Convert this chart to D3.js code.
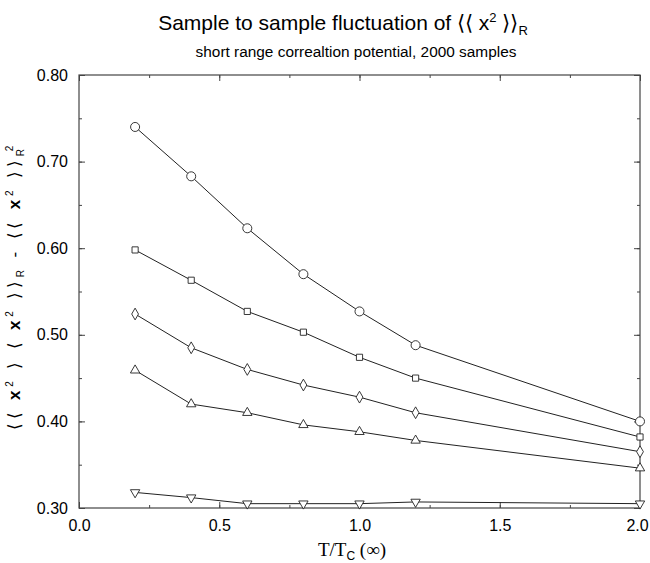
<!DOCTYPE html>
<html><head><meta charset="utf-8">
<script src="https://cdn.jsdelivr.net/npm/d3@7"></script>
<style>body{margin:0;background:#fff}svg{display:block}</style>
</head><body>
<svg id="c" width="650" height="563"></svg>
<script>
const temps = [0.2, 0.4, 0.6, 0.8, 1.0, 1.2, 2.0];
const circleSeries   = [0.740, 0.683, 0.623, 0.570, 0.527, 0.488, 0.400];
const squareSeries   = [0.598, 0.563, 0.527, 0.503, 0.474, 0.450, 0.382];
const diamondSeries  = [0.524, 0.485, 0.460, 0.442, 0.428, 0.410, 0.365];
const triangleSeries = [0.459, 0.420, 0.410, 0.396, 0.388, 0.378, 0.346];
const downTriSeries  = [0.318, 0.312, 0.305, 0.305, 0.305, 0.307, 0.305];
const xTicks = [0.0, 0.5, 1.0, 1.5, 2.0];
const yTicks = [0.30, 0.40, 0.50, 0.60, 0.70, 0.80];

const series = [
  {sym: d3.symbolCircle, size: 64, vals: circleSeries},
  {sym: d3.symbolSquare, size: 38, vals: squareSeries},
  {sym: d3.symbolDiamond, size: 40, vals: diamondSeries},
  {sym: d3.symbolTriangle, size: 38, vals: triangleSeries},
  {sym: d3.symbolTriangle, size: 38, vals: downTriSeries, rot: 180}
];

const svg = d3.select('#c');
const L = 79, R = 640, T = 75, B = 508;
const x = d3.scaleLinear().domain([0, 2]).range([L, R]);
const y = d3.scaleLinear().domain([0.3, 0.8]).range([B, T]);
const axCol = '#444';
const font = 'Liberation Sans, Arial, Helvetica, sans-serif';

// frame
svg.append('rect').attr('x', L).attr('y', T).attr('width', R - L).attr('height', B - T)
  .attr('fill', 'none').attr('stroke', axCol).attr('stroke-width', 1.2);

const xMinor = d3.range(0, 2.001, 0.25);
const yMinor = d3.range(0.30, 0.801, 0.05);
function tickAxis(axisFn, scale, vals, len, pos) {
  const g = svg.append('g').attr('transform', pos)
    .call(axisFn(scale).tickValues(vals).tickSize(len).tickFormat(''));
  g.select('.domain').remove();
  g.selectAll('line').attr('stroke', axCol);
}
// inward ticks on all sides
tickAxis(d3.axisTop, x, xTicks, 6, `translate(0,${B})`);
tickAxis(d3.axisTop, x, xMinor, 3, `translate(0,${B})`);
tickAxis(d3.axisBottom, x, xTicks, 6, `translate(0,${T})`);
tickAxis(d3.axisBottom, x, xMinor, 3, `translate(0,${T})`);
tickAxis(d3.axisRight, y, yTicks, 6, `translate(${L},0)`);
tickAxis(d3.axisRight, y, yMinor, 3, `translate(${L},0)`);
tickAxis(d3.axisLeft, y, yTicks, 6, `translate(${R},0)`);
tickAxis(d3.axisLeft, y, yMinor, 3, `translate(${R},0)`);

// tick labels
const xl = svg.append('g').attr('transform', `translate(0,${B})`)
  .call(d3.axisBottom(x).tickValues(xTicks).tickSize(0).tickPadding(12).tickFormat(d3.format('.1f')));
xl.select('.domain').remove();
xl.selectAll('text').attr('font-family', font).attr('font-size', 16).attr('fill', '#000')
  .attr('dx', d => d === 2 ? -3 : 0);

const yl = svg.append('g').attr('transform', `translate(${L},0)`)
  .call(d3.axisLeft(y).tickValues(yTicks).tickSize(0).tickPadding(11).tickFormat(d3.format('.2f')));
yl.select('.domain').remove();
yl.selectAll('text').attr('font-family', font).attr('font-size', 16).attr('fill', '#000');

// lines and markers
const line = d3.line().x((d, i) => x(temps[i])).y(d => y(d));
series.forEach(s => {
  svg.append('path').datum(s.vals).attr('d', line)
    .attr('fill', 'none').attr('stroke', '#222').attr('stroke-width', 1);
  svg.append('g').selectAll('path').data(s.vals).join('path')
    .attr('d', d3.symbol(s.sym, s.size))
    .attr('transform', (d, i) => `translate(${x(temps[i])},${y(d)})` + (s.rot ? ` rotate(${s.rot})` : ''))
    .attr('fill', '#fff').attr('stroke', '#222').attr('stroke-width', 0.9);
});

// title
const title = svg.append('text').attr('x', 343).attr('y', 30).attr('text-anchor', 'middle')
  .attr('font-family', font).attr('font-size', 21).attr('fill', '#000');
title.append('tspan').text('Sample to sample fluctuation of \u27E8\u27E8 x');
title.append('tspan').attr('font-size', 13).attr('dy', -8).text('2');
title.append('tspan').attr('dy', 8).text(' \u27E9\u27E9');
title.append('tspan').attr('font-size', 13).attr('dy', 5).text('R');

svg.append('text').attr('x', 356).attr('y', 57).attr('text-anchor', 'middle')
  .attr('font-family', font).attr('font-size', 15.4).attr('fill', '#000')
  .text('short range correaltion potential, 2000 samples');

// x label
const xt = svg.append('text').attr('x', 352).attr('y', 556).attr('text-anchor', 'middle')
  .attr('font-family', 'Liberation Serif, Times New Roman, serif').attr('font-size', 19).attr('fill', '#000');
xt.append('tspan').text('T/T');
xt.append('tspan').attr('font-family', font).attr('font-size', 12).attr('dy', 4).text('C');
xt.append('tspan').attr('dy', -4).text(' (\u221E)');

// y label
const yt = svg.append('text').attr('transform', 'translate(20,288) rotate(-90)').attr('text-anchor', 'middle')
  .attr('font-family', font).attr('font-size', 17).attr('fill', '#000')
  .attr('textLength', 285).attr('lengthAdjust', 'spacing');
yt.append('tspan').text('\u27E8\u27E8 ');
yt.append('tspan').attr('font-weight', 'bold').text('x');
yt.append('tspan').attr('font-size', 10).attr('dy', -7).text('2');
yt.append('tspan').attr('dy', 7).text(' \u27E9 \u27E8 ');
yt.append('tspan').attr('font-weight', 'bold').text('x');
yt.append('tspan').attr('font-size', 10).attr('dy', -7).text('2');
yt.append('tspan').attr('dy', 7).text(' \u27E9\u27E9');
yt.append('tspan').attr('font-size', 10).attr('dy', 4).text('R');
yt.append('tspan').attr('dy', -4).text(' - \u27E8\u27E8 ');
yt.append('tspan').attr('font-weight', 'bold').text('x');
yt.append('tspan').attr('font-size', 10).attr('dy', -7).text('2');
yt.append('tspan').attr('dy', 7).text(' \u27E9\u27E9');
yt.append('tspan').attr('font-size', 10).attr('dy', 4).text('R');
yt.append('tspan').attr('font-size', 10).attr('dx', -6).attr('dy', -11).text('2');
</script>
</body></html>
